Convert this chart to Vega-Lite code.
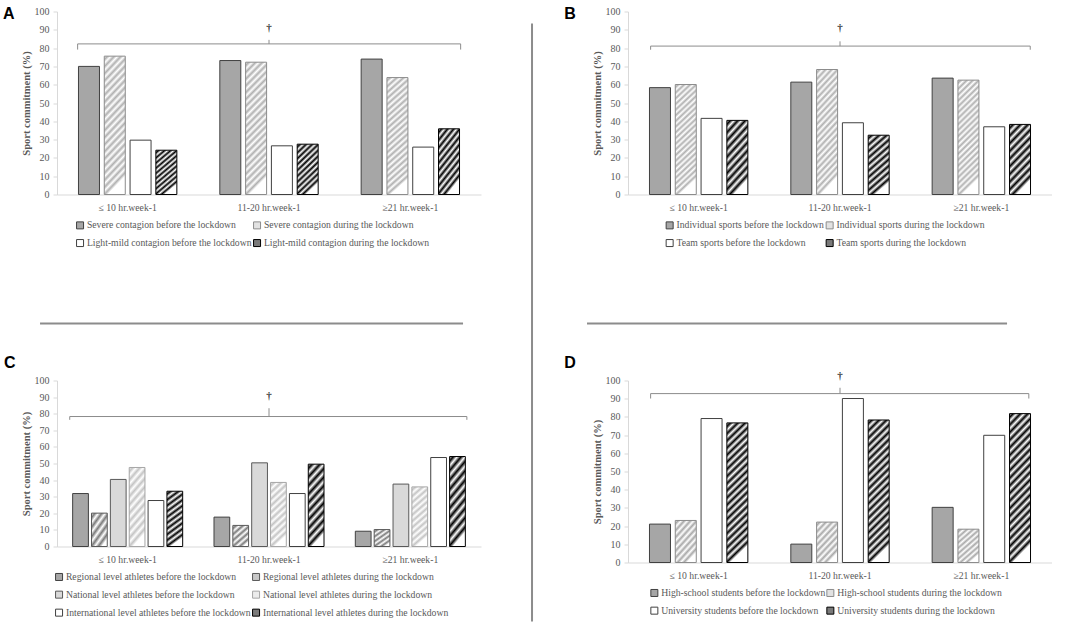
{
  "$schema": "https://vega.github.io/schema/vega-lite/v6.json",
  "padding": {"left": 3, "top": 5.5, "right": 0, "bottom": 0},
  "background": "#ffffff",
  "datasets": {
    "A": [
      {"hours": "≤ 10 hr.week-1", "series": "Severe contagion before the lockdown", "value": 70},
      {"hours": "≤ 10 hr.week-1", "series": "Severe contagion during the lockdown", "value": 75.6},
      {"hours": "≤ 10 hr.week-1", "series": "Light-mild contagion before the lockdown", "value": 29.7},
      {"hours": "≤ 10 hr.week-1", "series": "Light-mild contagion during the lockdown", "value": 24.2},
      {"hours": "11-20 hr.week-1", "series": "Severe contagion before the lockdown", "value": 73.2},
      {"hours": "11-20 hr.week-1", "series": "Severe contagion during the lockdown", "value": 72.3},
      {"hours": "11-20 hr.week-1", "series": "Light-mild contagion before the lockdown", "value": 26.6},
      {"hours": "11-20 hr.week-1", "series": "Light-mild contagion during the lockdown", "value": 27.5},
      {"hours": "≥21 hr.week-1", "series": "Severe contagion before the lockdown", "value": 74},
      {"hours": "≥21 hr.week-1", "series": "Severe contagion during the lockdown", "value": 63.9},
      {"hours": "≥21 hr.week-1", "series": "Light-mild contagion before the lockdown", "value": 25.9},
      {"hours": "≥21 hr.week-1", "series": "Light-mild contagion during the lockdown", "value": 35.9}
    ],
    "B": [
      {"hours": "≤ 10 hr.week-1", "series": "Individual sports before the lockdown", "value": 58.4},
      {"hours": "≤ 10 hr.week-1", "series": "Individual sports during the lockdown", "value": 60.1},
      {"hours": "≤ 10 hr.week-1", "series": "Team sports before the lockdown", "value": 41.6},
      {"hours": "≤ 10 hr.week-1", "series": "Team sports during the lockdown", "value": 40.5},
      {"hours": "11-20 hr.week-1", "series": "Individual sports before the lockdown", "value": 61.4},
      {"hours": "11-20 hr.week-1", "series": "Individual sports during the lockdown", "value": 68.3},
      {"hours": "11-20 hr.week-1", "series": "Team sports before the lockdown", "value": 39.2},
      {"hours": "11-20 hr.week-1", "series": "Team sports during the lockdown", "value": 32.4},
      {"hours": "≥21 hr.week-1", "series": "Individual sports before the lockdown", "value": 63.6},
      {"hours": "≥21 hr.week-1", "series": "Individual sports during the lockdown", "value": 62.5},
      {"hours": "≥21 hr.week-1", "series": "Team sports before the lockdown", "value": 37},
      {"hours": "≥21 hr.week-1", "series": "Team sports during the lockdown", "value": 38.3}
    ],
    "C": [
      {"hours": "≤ 10 hr.week-1", "series": "Regional level athletes before the lockdown", "value": 31.9},
      {"hours": "≤ 10 hr.week-1", "series": "Regional level athletes during the lockdown", "value": 20.1},
      {"hours": "≤ 10 hr.week-1", "series": "National level athletes before the lockdown", "value": 40.4},
      {"hours": "≤ 10 hr.week-1", "series": "National level athletes during the lockdown", "value": 47.6},
      {"hours": "≤ 10 hr.week-1", "series": "International level athletes before the lockdown", "value": 27.7},
      {"hours": "≤ 10 hr.week-1", "series": "International level athletes during the lockdown", "value": 33.3},
      {"hours": "11-20 hr.week-1", "series": "Regional level athletes before the lockdown", "value": 17.7},
      {"hours": "11-20 hr.week-1", "series": "Regional level athletes during the lockdown", "value": 12.7},
      {"hours": "11-20 hr.week-1", "series": "National level athletes before the lockdown", "value": 50.4},
      {"hours": "11-20 hr.week-1", "series": "National level athletes during the lockdown", "value": 38.6},
      {"hours": "11-20 hr.week-1", "series": "International level athletes before the lockdown", "value": 31.9},
      {"hours": "11-20 hr.week-1", "series": "International level athletes during the lockdown", "value": 49.6},
      {"hours": "≥21 hr.week-1", "series": "Regional level athletes before the lockdown", "value": 9.2},
      {"hours": "≥21 hr.week-1", "series": "Regional level athletes during the lockdown", "value": 10.2},
      {"hours": "≥21 hr.week-1", "series": "National level athletes before the lockdown", "value": 37.6},
      {"hours": "≥21 hr.week-1", "series": "National level athletes during the lockdown", "value": 35.9},
      {"hours": "≥21 hr.week-1", "series": "International level athletes before the lockdown", "value": 53.6},
      {"hours": "≥21 hr.week-1", "series": "International level athletes during the lockdown", "value": 54.2}
    ],
    "D": [
      {"hours": "≤ 10 hr.week-1", "series": "High-school students before the lockdown", "value": 21.1},
      {"hours": "≤ 10 hr.week-1", "series": "High-school students during the lockdown", "value": 23.1},
      {"hours": "≤ 10 hr.week-1", "series": "University students before the lockdown", "value": 79.1},
      {"hours": "≤ 10 hr.week-1", "series": "University students during the lockdown", "value": 76.7},
      {"hours": "11-20 hr.week-1", "series": "High-school students before the lockdown", "value": 10.1},
      {"hours": "11-20 hr.week-1", "series": "High-school students during the lockdown", "value": 22.2},
      {"hours": "11-20 hr.week-1", "series": "University students before the lockdown", "value": 90.1},
      {"hours": "11-20 hr.week-1", "series": "University students during the lockdown", "value": 78.3},
      {"hours": "≥21 hr.week-1", "series": "High-school students before the lockdown", "value": 30.3},
      {"hours": "≥21 hr.week-1", "series": "High-school students during the lockdown", "value": 18.3},
      {"hours": "≥21 hr.week-1", "series": "University students before the lockdown", "value": 69.9},
      {"hours": "≥21 hr.week-1", "series": "University students during the lockdown", "value": 81.8}
    ]
  },
  "columns": 2,
  "spacing": {"row": 186, "column": 147},
  "bounds": "flush",
  "resolve": {
    "scale": {"x": "independent", "y": "independent", "xOffset": "independent", "fill": "independent", "stroke": "independent"},
    "axis": {"x": "independent", "y": "independent"},
    "legend": {"fill": "independent", "stroke": "independent"}
  },
  "concat": [
    {
      "width": 424, "height": 183,
      "title": {"text": "A", "dx": -54, "dy": 19},
      "data": {"name": "A"},
      "layer": [
        {
          "mark": {"type": "bar", "strokeWidth": 1},
          "encoding": {
            "x": {"field": "hours", "type": "nominal", "title": null, "scale": {"domain": ["≤ 10 hr.week-1", "11-20 hr.week-1", "≥21 hr.week-1"], "paddingInner": 0, "paddingOuter": 0}},
            "xOffset": {"field": "series", "type": "nominal", "scale": {"domain": ["Severe contagion before the lockdown", "Severe contagion during the lockdown", "Light-mild contagion before the lockdown", "Light-mild contagion during the lockdown"], "paddingInner": 0.186, "paddingOuter": 0.833}},
            "y": {"field": "value", "type": "quantitative", "title": "Sport commitment (%)", "scale": {"domain": [0, 100], "nice": false}},
            "fill": {"field": "series", "type": "nominal", "legend": {"title": null, "legendX": 18.2, "legendY": 208.7},
              "scale": {"domain": ["Severe contagion before the lockdown", "Severe contagion during the lockdown", "Light-mild contagion before the lockdown", "Light-mild contagion during the lockdown"], "range": ["#a6a6a6", "#e2e2e2", "#ffffff", "#7a7a7a"]},
              "condition": [
                {"test": "datum.series === 'Severe contagion during the lockdown'", "value": {"gradient": "linear", "x1": 0, "y1": 0, "x2": 0.16, "y2": 1, "stops": [{"offset":0,"color":"#fff"},{"offset":0.025,"color":"#b0b0b0"},{"offset":0.05,"color":"#fff"},{"offset":0.075,"color":"#b0b0b0"},{"offset":0.1,"color":"#fff"},{"offset":0.125,"color":"#b0b0b0"},{"offset":0.15,"color":"#fff"},{"offset":0.175,"color":"#b0b0b0"},{"offset":0.2,"color":"#fff"},{"offset":0.225,"color":"#b0b0b0"},{"offset":0.25,"color":"#fff"},{"offset":0.275,"color":"#b0b0b0"},{"offset":0.3,"color":"#fff"},{"offset":0.325,"color":"#b0b0b0"},{"offset":0.35,"color":"#fff"},{"offset":0.375,"color":"#b0b0b0"},{"offset":0.4,"color":"#fff"},{"offset":0.425,"color":"#b0b0b0"},{"offset":0.45,"color":"#fff"},{"offset":0.475,"color":"#b0b0b0"},{"offset":0.5,"color":"#fff"},{"offset":0.525,"color":"#b0b0b0"},{"offset":0.55,"color":"#fff"},{"offset":0.575,"color":"#b0b0b0"},{"offset":0.6,"color":"#fff"},{"offset":0.625,"color":"#b0b0b0"},{"offset":0.65,"color":"#fff"},{"offset":0.675,"color":"#b0b0b0"},{"offset":0.7,"color":"#fff"},{"offset":0.725,"color":"#b0b0b0"},{"offset":0.75,"color":"#fff"},{"offset":0.775,"color":"#b0b0b0"},{"offset":0.8,"color":"#fff"},{"offset":0.825,"color":"#b0b0b0"},{"offset":0.85,"color":"#fff"},{"offset":0.875,"color":"#b0b0b0"},{"offset":0.9,"color":"#fff"},{"offset":0.925,"color":"#b0b0b0"},{"offset":0.95,"color":"#fff"},{"offset":0.975,"color":"#b0b0b0"},{"offset":1,"color":"#fff"}]}},
                {"test": "datum.series === 'Light-mild contagion during the lockdown'", "value": {"gradient": "linear", "x1": 0, "y1": 0, "x2": 0.4, "y2": 1, "stops": [{"offset":0,"color":"#fff"},{"offset":0.05,"color":"#000"},{"offset":0.1,"color":"#fff"},{"offset":0.15,"color":"#000"},{"offset":0.2,"color":"#fff"},{"offset":0.25,"color":"#000"},{"offset":0.3,"color":"#fff"},{"offset":0.35,"color":"#000"},{"offset":0.4,"color":"#fff"},{"offset":0.45,"color":"#000"},{"offset":0.5,"color":"#fff"},{"offset":0.55,"color":"#000"},{"offset":0.6,"color":"#fff"},{"offset":0.65,"color":"#000"},{"offset":0.7,"color":"#fff"},{"offset":0.75,"color":"#000"},{"offset":0.8,"color":"#fff"},{"offset":0.85,"color":"#000"},{"offset":0.9,"color":"#fff"},{"offset":0.95,"color":"#000"},{"offset":1,"color":"#fff"}]}}
              ]},
            "stroke": {"field": "series", "type": "nominal", "legend": {"title": null, "legendX": 18.2, "legendY": 208.7}, "scale": {"domain": ["Severe contagion before the lockdown", "Severe contagion during the lockdown", "Light-mild contagion before the lockdown", "Light-mild contagion during the lockdown"], "range": ["#404040", "#8c8c8c", "#404040", "#000000"]}}
          }
        },
        {"data": {"values": [{}]}, "mark": {"type": "rule", "color": "#8c8c8c", "strokeWidth": 1}, "encoding": {"x": {"datum": "≤ 10 hr.week-1", "bandPosition": 0.146}, "x2": {"datum": "≥21 hr.week-1", "bandPosition": 0.856}, "y": {"datum": 82.3}}},
        {"data": {"values": [{}]}, "mark": {"type": "rule", "color": "#8c8c8c", "strokeWidth": 1}, "encoding": {"x": {"datum": "≤ 10 hr.week-1", "bandPosition": 0.146}, "y": {"datum": 82.3}, "y2": {"datum": 79.2}}},
        {"data": {"values": [{}]}, "mark": {"type": "rule", "color": "#8c8c8c", "strokeWidth": 1}, "encoding": {"x": {"datum": "≥21 hr.week-1", "bandPosition": 0.856}, "y": {"datum": 82.3}, "y2": {"datum": 79.2}}},
        {"data": {"values": [{}]}, "mark": {"type": "rule", "color": "#8c8c8c", "strokeWidth": 1}, "encoding": {"x": {"datum": "11-20 hr.week-1", "bandPosition": 0.5}, "y": {"datum": 82.3}, "y2": {"datum": 84.5}}},
        {"data": {"values": [{}]}, "mark": {"type": "text", "text": "†", "font": "Liberation Serif", "fontSize": 11, "fontWeight": "bold", "fill": "#404040"}, "encoding": {"x": {"datum": "11-20 hr.week-1", "bandPosition": 0.5}, "y": {"datum": 91}}},
        {"data": {"values": [{}]}, "mark": {"type": "rule", "color": "#8c8c8c", "strokeWidth": 2}, "encoding": {"x": {"datum": "≥21 hr.week-1", "bandPosition": 1.361}, "y": {"datum": 93.4}, "y2": {"datum": -233.3}}},
        {"data": {"values": [{}]}, "mark": {"type": "rule", "color": "#8c8c8c", "strokeWidth": 2}, "encoding": {"x": {"datum": "≤ 10 hr.week-1", "bandPosition": -0.12}, "x2": {"datum": "≥21 hr.week-1", "bandPosition": 0.873}, "y": {"datum": -70.5}}}
      ]
    },
    {
      "width": 424, "height": 183,
      "title": {"text": "B", "dx": -63.7, "dy": 19},
      "data": {"name": "B"},
      "layer": [
        {
          "mark": {"type": "bar", "strokeWidth": 1},
          "encoding": {
            "x": {"field": "hours", "type": "nominal", "title": null, "scale": {"domain": ["≤ 10 hr.week-1", "11-20 hr.week-1", "≥21 hr.week-1"], "paddingInner": 0, "paddingOuter": 0}},
            "xOffset": {"field": "series", "type": "nominal", "scale": {"domain": ["Individual sports before the lockdown", "Individual sports during the lockdown", "Team sports before the lockdown", "Team sports during the lockdown"], "paddingInner": 0.186, "paddingOuter": 0.833}},
            "y": {"field": "value", "type": "quantitative", "title": "Sport commitment (%)", "scale": {"domain": [0, 100], "nice": false}},
            "fill": {"field": "series", "type": "nominal", "legend": {"title": null, "legendX": 36.8, "legendY": 208.7},
              "scale": {"domain": ["Individual sports before the lockdown", "Individual sports during the lockdown", "Team sports before the lockdown", "Team sports during the lockdown"], "range": ["#a6a6a6", "#e2e2e2", "#ffffff", "#7a7a7a"]},
              "condition": [
                {"test": "datum.series === 'Individual sports during the lockdown'", "value": {"gradient": "linear", "x1": 0, "y1": 0, "x2": 0.18, "y2": 1, "stops": [{"offset":0,"color":"#fff"},{"offset":0.025,"color":"#b0b0b0"},{"offset":0.05,"color":"#fff"},{"offset":0.075,"color":"#b0b0b0"},{"offset":0.1,"color":"#fff"},{"offset":0.125,"color":"#b0b0b0"},{"offset":0.15,"color":"#fff"},{"offset":0.175,"color":"#b0b0b0"},{"offset":0.2,"color":"#fff"},{"offset":0.225,"color":"#b0b0b0"},{"offset":0.25,"color":"#fff"},{"offset":0.275,"color":"#b0b0b0"},{"offset":0.3,"color":"#fff"},{"offset":0.325,"color":"#b0b0b0"},{"offset":0.35,"color":"#fff"},{"offset":0.375,"color":"#b0b0b0"},{"offset":0.4,"color":"#fff"},{"offset":0.425,"color":"#b0b0b0"},{"offset":0.45,"color":"#fff"},{"offset":0.475,"color":"#b0b0b0"},{"offset":0.5,"color":"#fff"},{"offset":0.525,"color":"#b0b0b0"},{"offset":0.55,"color":"#fff"},{"offset":0.575,"color":"#b0b0b0"},{"offset":0.6,"color":"#fff"},{"offset":0.625,"color":"#b0b0b0"},{"offset":0.65,"color":"#fff"},{"offset":0.675,"color":"#b0b0b0"},{"offset":0.7,"color":"#fff"},{"offset":0.725,"color":"#b0b0b0"},{"offset":0.75,"color":"#fff"},{"offset":0.775,"color":"#b0b0b0"},{"offset":0.8,"color":"#fff"},{"offset":0.825,"color":"#b0b0b0"},{"offset":0.85,"color":"#fff"},{"offset":0.875,"color":"#b0b0b0"},{"offset":0.9,"color":"#fff"},{"offset":0.925,"color":"#b0b0b0"},{"offset":0.95,"color":"#fff"},{"offset":0.975,"color":"#b0b0b0"},{"offset":1,"color":"#fff"}]}},
                {"test": "datum.series === 'Team sports during the lockdown'", "value": {"gradient": "linear", "x1": 0, "y1": 0, "x2": 0.31, "y2": 1, "stops": [{"offset":0,"color":"#fff"},{"offset":0.05,"color":"#000"},{"offset":0.1,"color":"#fff"},{"offset":0.15,"color":"#000"},{"offset":0.2,"color":"#fff"},{"offset":0.25,"color":"#000"},{"offset":0.3,"color":"#fff"},{"offset":0.35,"color":"#000"},{"offset":0.4,"color":"#fff"},{"offset":0.45,"color":"#000"},{"offset":0.5,"color":"#fff"},{"offset":0.55,"color":"#000"},{"offset":0.6,"color":"#fff"},{"offset":0.65,"color":"#000"},{"offset":0.7,"color":"#fff"},{"offset":0.75,"color":"#000"},{"offset":0.8,"color":"#fff"},{"offset":0.85,"color":"#000"},{"offset":0.9,"color":"#fff"},{"offset":0.95,"color":"#000"},{"offset":1,"color":"#fff"}]}}
              ]},
            "stroke": {"field": "series", "type": "nominal", "legend": {"title": null, "legendX": 36.8, "legendY": 208.7}, "scale": {"domain": ["Individual sports before the lockdown", "Individual sports during the lockdown", "Team sports before the lockdown", "Team sports during the lockdown"], "range": ["#404040", "#8c8c8c", "#404040", "#000000"]}}
          }
        },
        {"data": {"values": [{}]}, "mark": {"type": "rule", "color": "#8c8c8c", "strokeWidth": 1}, "encoding": {"x": {"datum": "≤ 10 hr.week-1", "bandPosition": 0.16}, "x2": {"datum": "≥21 hr.week-1", "bandPosition": 0.846}, "y": {"datum": 81.1}}},
        {"data": {"values": [{}]}, "mark": {"type": "rule", "color": "#8c8c8c", "strokeWidth": 1}, "encoding": {"x": {"datum": "≤ 10 hr.week-1", "bandPosition": 0.16}, "y": {"datum": 81.1}, "y2": {"datum": 79.1}}},
        {"data": {"values": [{}]}, "mark": {"type": "rule", "color": "#8c8c8c", "strokeWidth": 1}, "encoding": {"x": {"datum": "≥21 hr.week-1", "bandPosition": 0.846}, "y": {"datum": 81.1}, "y2": {"datum": 79.1}}},
        {"data": {"values": [{}]}, "mark": {"type": "rule", "color": "#8c8c8c", "strokeWidth": 1}, "encoding": {"x": {"datum": "11-20 hr.week-1", "bandPosition": 0.5}, "y": {"datum": 81.1}, "y2": {"datum": 83.7}}},
        {"data": {"values": [{}]}, "mark": {"type": "text", "text": "†", "font": "Liberation Serif", "fontSize": 11, "fontWeight": "bold", "fill": "#404040"}, "encoding": {"x": {"datum": "11-20 hr.week-1", "bandPosition": 0.5}, "y": {"datum": 91}}},
        {"data": {"values": [{}]}, "mark": {"type": "rule", "color": "#8c8c8c", "strokeWidth": 2}, "encoding": {"x": {"datum": "≤ 10 hr.week-1", "bandPosition": -0.29}, "x2": {"datum": "≥21 hr.week-1", "bandPosition": 0.682}, "y": {"datum": -70.5}}}
      ]
    },
    {
      "width": 424, "height": 166,
      "title": {"text": "C", "dx": -53, "dy": -0.4},
      "data": {"name": "C"},
      "layer": [
        {
          "mark": {"type": "bar", "strokeWidth": 1},
          "encoding": {
            "x": {"field": "hours", "type": "nominal", "title": null, "scale": {"domain": ["≤ 10 hr.week-1", "11-20 hr.week-1", "≥21 hr.week-1"], "paddingInner": 0, "paddingOuter": 0}},
            "xOffset": {"field": "series", "type": "nominal", "scale": {"domain": ["Regional level athletes before the lockdown", "Regional level athletes during the lockdown", "National level athletes before the lockdown", "National level athletes during the lockdown", "International level athletes before the lockdown", "International level athletes during the lockdown"], "paddingInner": 0.165, "paddingOuter": 0.83}},
            "y": {"field": "value", "type": "quantitative", "title": "Sport commitment (%)", "scale": {"domain": [0, 100], "nice": false}},
            "fill": {"field": "series", "type": "nominal", "legend": {"title": null, "legendX": -2.8, "legendY": 191.3},
              "scale": {"domain": ["Regional level athletes before the lockdown", "Regional level athletes during the lockdown", "National level athletes before the lockdown", "National level athletes during the lockdown", "International level athletes before the lockdown", "International level athletes during the lockdown"], "range": ["#a6a6a6", "#c8c8c8", "#d9d9d9", "#ececec", "#ffffff", "#7a7a7a"]},
              "condition": [
                {"test": "datum.series === 'Regional level athletes during the lockdown'", "value": {"gradient": "linear", "x1": 0, "y1": 0, "x2": 0.65, "y2": 1, "stops": [{"offset":0,"color":"#fff"},{"offset":0.1,"color":"#7a7a7a"},{"offset":0.2,"color":"#fff"},{"offset":0.3,"color":"#7a7a7a"},{"offset":0.4,"color":"#fff"},{"offset":0.5,"color":"#7a7a7a"},{"offset":0.6,"color":"#fff"},{"offset":0.7,"color":"#7a7a7a"},{"offset":0.8,"color":"#fff"},{"offset":0.9,"color":"#7a7a7a"},{"offset":1,"color":"#fff"}]}},
                {"test": "datum.series === 'National level athletes during the lockdown'", "value": {"gradient": "linear", "x1": 0, "y1": 0, "x2": 0.23, "y2": 1, "stops": [{"offset":0,"color":"#fff"},{"offset":0.05,"color":"#c4c4c4"},{"offset":0.1,"color":"#fff"},{"offset":0.15,"color":"#c4c4c4"},{"offset":0.2,"color":"#fff"},{"offset":0.25,"color":"#c4c4c4"},{"offset":0.3,"color":"#fff"},{"offset":0.35,"color":"#c4c4c4"},{"offset":0.4,"color":"#fff"},{"offset":0.45,"color":"#c4c4c4"},{"offset":0.5,"color":"#fff"},{"offset":0.55,"color":"#c4c4c4"},{"offset":0.6,"color":"#fff"},{"offset":0.65,"color":"#c4c4c4"},{"offset":0.7,"color":"#fff"},{"offset":0.75,"color":"#c4c4c4"},{"offset":0.8,"color":"#fff"},{"offset":0.85,"color":"#c4c4c4"},{"offset":0.9,"color":"#fff"},{"offset":0.95,"color":"#c4c4c4"},{"offset":1,"color":"#fff"}]}},
                {"test": "datum.series === 'International level athletes during the lockdown'", "value": {"gradient": "linear", "x1": 0, "y1": 0, "x2": 0.21, "y2": 1, "stops": [{"offset":0,"color":"#fff"},{"offset":0.05,"color":"#000"},{"offset":0.1,"color":"#fff"},{"offset":0.15,"color":"#000"},{"offset":0.2,"color":"#fff"},{"offset":0.25,"color":"#000"},{"offset":0.3,"color":"#fff"},{"offset":0.35,"color":"#000"},{"offset":0.4,"color":"#fff"},{"offset":0.45,"color":"#000"},{"offset":0.5,"color":"#fff"},{"offset":0.55,"color":"#000"},{"offset":0.6,"color":"#fff"},{"offset":0.65,"color":"#000"},{"offset":0.7,"color":"#fff"},{"offset":0.75,"color":"#000"},{"offset":0.8,"color":"#fff"},{"offset":0.85,"color":"#000"},{"offset":0.9,"color":"#fff"},{"offset":0.95,"color":"#000"},{"offset":1,"color":"#fff"}]}}
              ]},
            "stroke": {"field": "series", "type": "nominal", "legend": {"title": null, "legendX": -2.8, "legendY": 191.3}, "scale": {"domain": ["Regional level athletes before the lockdown", "Regional level athletes during the lockdown", "National level athletes before the lockdown", "National level athletes during the lockdown", "International level athletes before the lockdown", "International level athletes during the lockdown"], "range": ["#404040", "#595959", "#595959", "#a6a6a6", "#404040", "#000000"]}}
          }
        },
        {"data": {"values": [{}]}, "mark": {"type": "rule", "color": "#8c8c8c", "strokeWidth": 1}, "encoding": {"x": {"datum": "≤ 10 hr.week-1", "bandPosition": 0.09}, "x2": {"datum": "≥21 hr.week-1", "bandPosition": 0.9}, "y": {"datum": 78.3}}},
        {"data": {"values": [{}]}, "mark": {"type": "rule", "color": "#8c8c8c", "strokeWidth": 1}, "encoding": {"x": {"datum": "≤ 10 hr.week-1", "bandPosition": 0.09}, "y": {"datum": 78.3}, "y2": {"datum": 76.3}}},
        {"data": {"values": [{}]}, "mark": {"type": "rule", "color": "#8c8c8c", "strokeWidth": 1}, "encoding": {"x": {"datum": "≥21 hr.week-1", "bandPosition": 0.9}, "y": {"datum": 78.3}, "y2": {"datum": 76.3}}},
        {"data": {"values": [{}]}, "mark": {"type": "rule", "color": "#8c8c8c", "strokeWidth": 1}, "encoding": {"x": {"datum": "11-20 hr.week-1", "bandPosition": 0.5}, "y": {"datum": 78.3}, "y2": {"datum": 83.3}}},
        {"data": {"values": [{}]}, "mark": {"type": "text", "text": "†", "font": "Liberation Serif", "fontSize": 11, "fontWeight": "bold", "fill": "#404040"}, "encoding": {"x": {"datum": "11-20 hr.week-1", "bandPosition": 0.5}, "y": {"datum": 90.8}}}
      ]
    },
    {
      "width": 424, "height": 182,
      "title": {"text": "D", "dx": -63.7, "dy": 4.7},
      "data": {"name": "D"},
      "layer": [
        {
          "mark": {"type": "bar", "strokeWidth": 1},
          "encoding": {
            "x": {"field": "hours", "type": "nominal", "title": null, "scale": {"domain": ["≤ 10 hr.week-1", "11-20 hr.week-1", "≥21 hr.week-1"], "paddingInner": 0, "paddingOuter": 0}},
            "xOffset": {"field": "series", "type": "nominal", "scale": {"domain": ["High-school students before the lockdown", "High-school students during the lockdown", "University students before the lockdown", "University students during the lockdown"], "paddingInner": 0.186, "paddingOuter": 0.833}},
            "y": {"field": "value", "type": "quantitative", "title": "Sport commitment (%)", "scale": {"domain": [0, 100], "nice": false}},
            "fill": {"field": "series", "type": "nominal", "legend": {"title": null, "legendX": 21.5, "legendY": 207.3},
              "scale": {"domain": ["High-school students before the lockdown", "High-school students during the lockdown", "University students before the lockdown", "University students during the lockdown"], "range": ["#a6a6a6", "#e2e2e2", "#ffffff", "#7a7a7a"]},
              "condition": [
                {"test": "datum.series === 'High-school students during the lockdown'", "value": {"gradient": "linear", "x1": 0, "y1": 0, "x2": 0.55, "y2": 1, "stops": [{"offset":0,"color":"#fff"},{"offset":0.0625,"color":"#a8a8a8"},{"offset":0.125,"color":"#fff"},{"offset":0.1875,"color":"#a8a8a8"},{"offset":0.25,"color":"#fff"},{"offset":0.3125,"color":"#a8a8a8"},{"offset":0.375,"color":"#fff"},{"offset":0.4375,"color":"#a8a8a8"},{"offset":0.5,"color":"#fff"},{"offset":0.5625,"color":"#a8a8a8"},{"offset":0.625,"color":"#fff"},{"offset":0.6875,"color":"#a8a8a8"},{"offset":0.75,"color":"#fff"},{"offset":0.8125,"color":"#a8a8a8"},{"offset":0.875,"color":"#fff"},{"offset":0.9375,"color":"#a8a8a8"},{"offset":1,"color":"#fff"}]}},
                {"test": "datum.series === 'University students during the lockdown'", "value": {"gradient": "linear", "x1": 0, "y1": 0, "x2": 0.146, "y2": 1, "stops": [{"offset":0,"color":"#fff"},{"offset":0.025,"color":"#000"},{"offset":0.05,"color":"#fff"},{"offset":0.075,"color":"#000"},{"offset":0.1,"color":"#fff"},{"offset":0.125,"color":"#000"},{"offset":0.15,"color":"#fff"},{"offset":0.175,"color":"#000"},{"offset":0.2,"color":"#fff"},{"offset":0.225,"color":"#000"},{"offset":0.25,"color":"#fff"},{"offset":0.275,"color":"#000"},{"offset":0.3,"color":"#fff"},{"offset":0.325,"color":"#000"},{"offset":0.35,"color":"#fff"},{"offset":0.375,"color":"#000"},{"offset":0.4,"color":"#fff"},{"offset":0.425,"color":"#000"},{"offset":0.45,"color":"#fff"},{"offset":0.475,"color":"#000"},{"offset":0.5,"color":"#fff"},{"offset":0.525,"color":"#000"},{"offset":0.55,"color":"#fff"},{"offset":0.575,"color":"#000"},{"offset":0.6,"color":"#fff"},{"offset":0.625,"color":"#000"},{"offset":0.65,"color":"#fff"},{"offset":0.675,"color":"#000"},{"offset":0.7,"color":"#fff"},{"offset":0.725,"color":"#000"},{"offset":0.75,"color":"#fff"},{"offset":0.775,"color":"#000"},{"offset":0.8,"color":"#fff"},{"offset":0.825,"color":"#000"},{"offset":0.85,"color":"#fff"},{"offset":0.875,"color":"#000"},{"offset":0.9,"color":"#fff"},{"offset":0.925,"color":"#000"},{"offset":0.95,"color":"#fff"},{"offset":0.975,"color":"#000"},{"offset":1,"color":"#fff"}]}}
              ]},
            "stroke": {"field": "series", "type": "nominal", "legend": {"title": null, "legendX": 21.5, "legendY": 207.3}, "scale": {"domain": ["High-school students before the lockdown", "High-school students during the lockdown", "University students before the lockdown", "University students during the lockdown"], "range": ["#404040", "#8c8c8c", "#404040", "#000000"]}}
          }
        },
        {"data": {"values": [{}]}, "mark": {"type": "rule", "color": "#8c8c8c", "strokeWidth": 1}, "encoding": {"x": {"datum": "≤ 10 hr.week-1", "bandPosition": 0.16}, "x2": {"datum": "≥21 hr.week-1", "bandPosition": 0.836}, "y": {"datum": 92.8}}},
        {"data": {"values": [{}]}, "mark": {"type": "rule", "color": "#8c8c8c", "strokeWidth": 1}, "encoding": {"x": {"datum": "≤ 10 hr.week-1", "bandPosition": 0.16}, "y": {"datum": 92.8}, "y2": {"datum": 90.1}}},
        {"data": {"values": [{}]}, "mark": {"type": "rule", "color": "#8c8c8c", "strokeWidth": 1}, "encoding": {"x": {"datum": "≥21 hr.week-1", "bandPosition": 0.836}, "y": {"datum": 92.8}, "y2": {"datum": 90.1}}},
        {"data": {"values": [{}]}, "mark": {"type": "rule", "color": "#8c8c8c", "strokeWidth": 1}, "encoding": {"x": {"datum": "11-20 hr.week-1", "bandPosition": 0.5}, "y": {"datum": 92.8}, "y2": {"datum": 96}}},
        {"data": {"values": [{}]}, "mark": {"type": "text", "text": "†", "font": "Liberation Serif", "fontSize": 11, "fontWeight": "bold", "fill": "#404040"}, "encoding": {"x": {"datum": "11-20 hr.week-1", "bandPosition": 0.5}, "y": {"datum": 102.4}}}
      ]
    }
  ],
  "config": {
    "view": {"stroke": null},
    "font": "Liberation Serif",
    "axis": {"grid": false, "labelFont": "Liberation Serif", "labelColor": "#595959", "domainColor": "#d9d9d9", "tickColor": "#d9d9d9", "titleFont": "Liberation Serif", "titleColor": "#595959"},
    "axisX": {"ticks": false, "labelAngle": 0, "labelFontSize": 9.7, "labelPadding": 7.5},
    "axisY": {"tickCount": 10, "labelFontSize": 10, "tickSize": 4, "labelPadding": 4, "labelOverlap": false, "labelFlush": false, "titleFontSize": 10.5, "titleFontWeight": "bold", "titlePadding": 3},
    "legend": {"orient": "none", "direction": "horizontal", "columns": 2, "symbolType": "square", "symbolSize": 49, "symbolStrokeWidth": 1, "labelFont": "Liberation Serif", "labelFontSize": 9.7, "labelColor": "#595959", "labelLimit": 400, "labelOffset": 2, "rowPadding": 6, "columnPadding": -3, "padding": 0},
    "title": {"anchor": "start", "frame": "group", "font": "Liberation Sans", "fontSize": 16, "fontWeight": "bold", "color": "#000000", "offset": 0, "baseline": "alphabetic"}
  }
}
